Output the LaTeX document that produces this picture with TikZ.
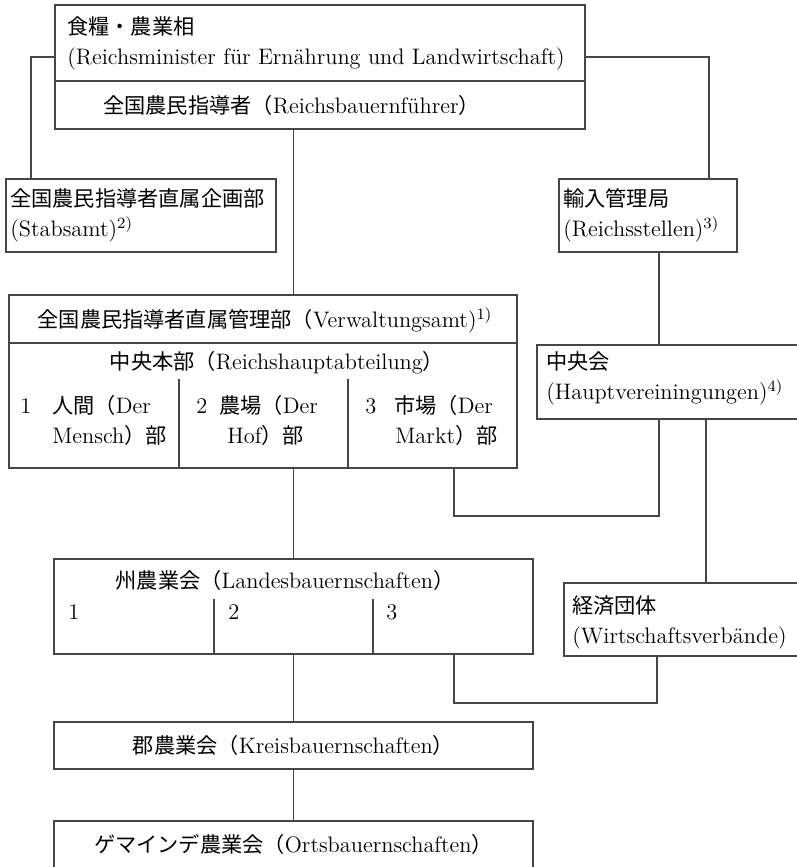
\documentclass[tikz,border=0pt]{standalone}
\usepackage{fontspec}
\newfontfamily\jpfont[Scale=0.946]{Noto Sans CJK JP}
\newcommand{\ja}[1]{{\jpfont #1}}
\usepackage{tikz}
\usetikzlibrary{positioning,calc}
\definecolor{orgline}{RGB}{70,70,70}
\tikzstyle{orgbox} = [rectangle, draw=orgline, line width=0.6pt, inner sep=0pt, font=\fontsize{11.2}{15}\selectfont]
\tikzstyle{orgtext} = [inner sep=0pt, align=left, font=\fontsize{11.2}{15}\selectfont]
\tikzstyle{link} = [draw=orgline, line width=0.6pt]

\begin{document}
\begin{tikzpicture}[x=0.5pt, y=-0.5pt]
    \useasboundingbox (0,0) rectangle (797,867);
    \clip (0,0) rectangle (797,867);

    % Boxes
    \node[orgbox, minimum width=265pt, minimum height=62pt] (min) at (320,67) {};
    \node[orgbox, minimum width=135pt, minimum height=36.5pt] (stab) at (141,215.5) {};
    \node[orgbox, minimum width=89pt, minimum height=36.5pt] (rst) at (648,215.5) {};
    \node[orgbox, minimum width=254pt, minimum height=86.5pt] (verw) at (263,381.5) {};
    \node[orgbox, minimum width=131.5pt, minimum height=37pt] (hv) at (668.5,382) {};
    \node[orgbox, minimum width=239.5pt, minimum height=47.5pt] (landes) at (293.5,606.5) {};
    \node[orgbox, minimum width=118pt, minimum height=36.5pt] (wv) at (682,619.5) {};
    \node[orgbox, minimum width=239.5pt, minimum height=23.5pt] (kreis) at (293.5,745.5) {\ja{郡農業会（}Kreisbauernschaften\ja{）}};
    \node[orgbox, minimum width=239.5pt, minimum height=23.5pt] (orts) at (293.5,844.5) {\ja{ゲマインデ農業会（}Ortsbauernschaften\ja{）}};

    % Inner rules
    \draw[link] (min.west |- 0,81) -- (min.east |- 0,81);
    \draw[link] (verw.west |- 0,343) -- (verw.east |- 0,343);
    \draw[link] (179,379) -- (179,379 |- verw.south);
    \draw[link] (348,379) -- (348,379 |- verw.south);
    \draw[link] (214,599) -- (214,599 |- landes.south);
    \draw[link] (373,599) -- (373,599 |- landes.south);

    % Texts
    \node[orgtext, anchor=west] (mintitle) at (67,43) {\ja{食糧・農業相}\\(Reichsminister für Ernährung und Landwirtschaft)};
    \node[orgtext, anchor=west] (minlead) at (103,105) {\ja{全国農民指導者（}Reichsbauernführer\ja{）}};
    \node[orgtext, anchor=west] (stabtext) at (10,215) {\ja{全国農民指導者直属企画部}\\(Stabsamt)\textsuperscript{2)}};
    \node[orgtext, anchor=west] (rsttext) at (563,215) {\ja{輸入管理局}\\(Reichsstellen)\textsuperscript{3)}};
    \node[orgtext] (verwtext) at (265,320) {\ja{全国農民指導者直属管理部（}Verwaltungsamt)\textsuperscript{1)}};
    \node[orgtext] (hqtext) at (277,363) {\ja{中央本部（}Reichshauptabteilung\ja{）}};
    \node[orgtext, anchor=west] (colA) at (20,420) {\makebox[16pt][l]{1}\ja{人間（}Der\\\hspace*{16pt}Mensch\ja{）部}};
    \node[orgtext, anchor=west] (colB) at (196,420) {\makebox[11.5pt][l]{2}\ja{農場（}Der\\\hspace*{15.5pt}Hof\ja{）部}};
    \node[orgtext, anchor=west] (colC) at (365,420) {\makebox[14.5pt][l]{3}\ja{市場（}Der\\\hspace*{15pt}Markt\ja{）部}};
    \node[orgtext, anchor=west] (hvtext) at (546,378) {\ja{中央会}\\(Hauptvereiningungen)\textsuperscript{4)}};
    \node[orgtext] (landestext) at (285,580) {\ja{州農業会（}Landesbauernschaften\ja{）}};
    \node[orgtext, anchor=west] (numA) at (68,612) {1};
    \node[orgtext, anchor=west] (numB) at (228,612) {2};
    \node[orgtext, anchor=west] (numC) at (386,612) {3};
    \node[orgtext, anchor=west] (wvtext) at (572,622) {\ja{経済団体}\\(Wirtschaftsverbände)};

    % Connectors
    \coordinate (hvbend) at (454,516);
    \coordinate (wvbend) at (454,703);
    \draw[link] ([yshift=5pt]min.west) -| ([xshift=-55pt]stab.north);
    \draw[link] ([yshift=5pt]min.east) -| ([xshift=30.5pt]rst.north);
    \draw[link] (min.south -| landes) -- (verw.north -| landes);
    \draw[link] ([xshift=5.5pt]rst.south) -- ([xshift=5.5pt]rst.south |- hv.north);
    \draw[link] ([xshift=-4.75pt]hv.south) |- (hvbend) -- (hvbend |- verw.south);
    \draw[link] ([xshift=18.75pt]hv.south) -- ([xshift=18.75pt]hv.south |- wv.north);
    \draw[link] ([xshift=-12.5pt]wv.south) |- (wvbend) -- (wvbend |- landes.south);
    \draw[link] (verw.south -| landes) -- (landes.north);
    \draw[link] (landes.south) -- (kreis.north);
    \draw[link] (kreis.south) -- (orts.north);
\end{tikzpicture}
\end{document}
